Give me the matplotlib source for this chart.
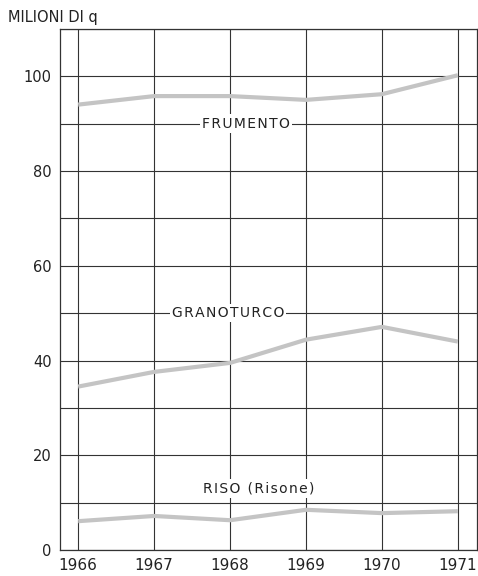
import matplotlib

matplotlib.use("Agg")

import matplotlib.pyplot as plt
from matplotlib.ticker import MultipleLocator

years = [1966, 1967, 1968, 1969, 1970, 1971]
frumento = [94.0, 95.8, 95.8, 95.0, 96.2, 100.2]
granoturco = [34.5, 37.6, 39.5, 44.4, 47.1, 44.0]
riso = [6.1, 7.2, 6.3, 8.5, 7.8, 8.2]

labels = ["FRUMENTO", "GRANOTURCO", "RISO (Risone)"]
label_pos = [(1968.21, 90), (1967.97, 50), (1968.38, 13)]

HAIR = "\u200a"


def spaced(s):
    # the original lettering is a bit widely tracked
    return HAIR.join(s)


fig = plt.figure(figsize=(4.78, 5.76), dpi=100)
ax = fig.add_axes([0.1255, 0.045, 0.872, 0.905])

for series in (frumento, granoturco, riso):
    ax.plot(years, series, color="#c4c4c4", linewidth=3.0, solid_capstyle="butt", zorder=3)

for text, (x, y) in zip(labels, label_pos):
    ax.text(x, y, spaced(text), ha="center", va="center", fontsize=10, color="#222222",
            bbox=dict(facecolor="white", edgecolor="none", pad=1.5), zorder=4)

ax.set_xlim(1965.76, 1971.25)
ax.set_ylim(0, 110)
ax.set_xticks(years)
ax.yaxis.set_minor_locator(MultipleLocator(10))
ax.set_yticks([0, 20, 40, 60, 80, 100])
ax.grid(True, which="both", color="#333333", linewidth=0.8)
ax.set_axisbelow(True)
ax.tick_params(which="both", length=0, labelsize=10.5, colors="#222222", pad=6)
ax.tick_params(axis="x", labelsize=11)
for spine in ax.spines.values():
    spine.set_color("#333333")
    spine.set_linewidth(0.9)

fig.text(0.017, 0.97, "MILIONI DI q", ha="left", va="center", fontsize=10.5, color="#222222")

fig.savefig("out.png", dpi=100)
plt.close(fig)
